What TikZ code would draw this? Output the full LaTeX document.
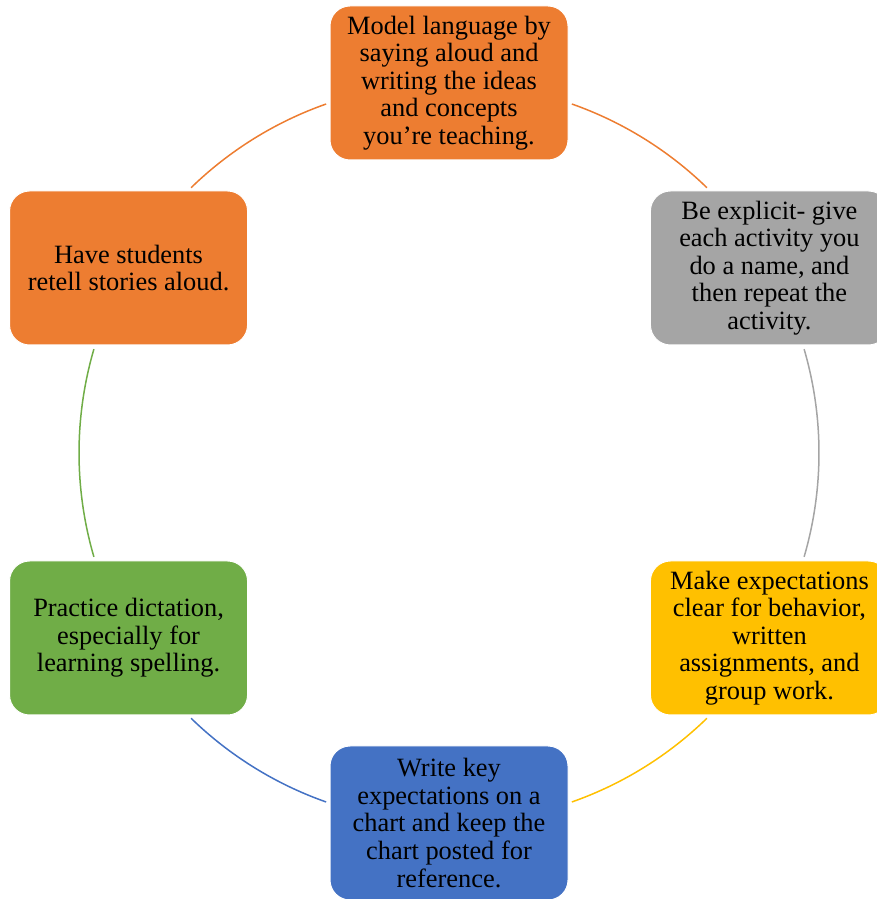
\documentclass[tikz,border=0pt]{standalone}
\usepackage{fontspec}
\setmainfont{Liberation Serif}
\definecolor{cOrange}{HTML}{ED7D31}
\definecolor{cGray}{HTML}{A5A5A5}
\definecolor{cYellow}{HTML}{FFC000}
\definecolor{cBlue}{HTML}{4472C4}
\definecolor{cGreen}{HTML}{70AD47}
\begin{document}
\begin{tikzpicture}[x=0.5pt,y=0.5pt,
  box/.style={rounded corners=10pt, minimum width=119pt, minimum height=77pt,
    inner sep=0pt, draw=white, line width=0.5pt, align=center,
    font=\fontsize{13.2}{13.8}\selectfont, text=black},
  link/.style={line width=0.75pt}]
\useasboundingbox (0,0) rectangle (877,899);
\clip (0,0) rectangle (877,899);
\coordinate (c) at (449,446);
% arcs
\coordinate (a1) at ([shift={(c)}]70.6:370);
\coordinate (a2) at ([shift={(c)}]16.3:370);
\coordinate (a3) at ([shift={(c)}]-45.8:370);
\coordinate (a4) at ([shift={(c)}]-109.4:370);
\coordinate (a5) at ([shift={(c)}]-163.7:370);
\coordinate (a6) at ([shift={(c)}]134.2:370);
\draw[link,cOrange] (a1) arc[start angle=70.6, end angle=45.8, radius=370];
\draw[link,cGray] (a2) arc[start angle=16.3, end angle=-16.3, radius=370];
\draw[link,cYellow] (a3) arc[start angle=-45.8, end angle=-70.6, radius=370];
\draw[link,cBlue] (a4) arc[start angle=-109.4, end angle=-134.2, radius=370];
\draw[link,cGreen] (a5) arc[start angle=-163.7, end angle=-196.3, radius=370];
\draw[link,cOrange] (a6) arc[start angle=134.2, end angle=109.4, radius=370];
% boxes
\node[box, fill=cOrange] (top) at ([shift={(c)}]90:370)
  {Model language by\\saying aloud and\\writing the ideas\\and concepts\\you’re teaching.};
\node[box, fill=cGray] (tr) at ([shift={(c)}]30:370)
  {Be explicit- give\\each activity you\\do a name, and\\then repeat the\\activity.};
\node[box, fill=cYellow] (br) at ([shift={(c)}]-30:370)
  {Make expectations\\clear for behavior,\\written\\assignments, and\\group work.};
\node[box, fill=cBlue] (bot) at ([shift={(c)}]-90:370)
  {Write key\\expectations on a\\chart and keep the\\chart posted for\\reference.};
\node[box, fill=cGreen] (bl) at ([shift={(c)}]-150:370)
  {Practice dictation,\\especially for\\learning spelling.};
\node[box, fill=cOrange] (tl) at ([shift={(c)}]150:370)
  {Have students\\retell stories aloud.};
\end{tikzpicture}
\end{document}
